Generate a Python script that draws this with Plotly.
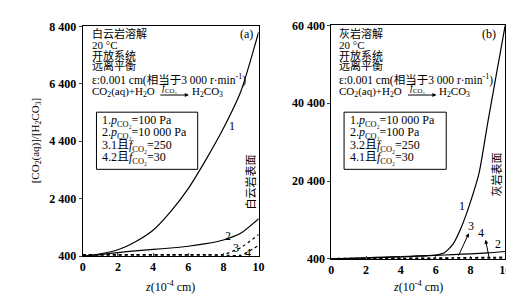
import plotly.graph_objects as go

# ---------------- data ----------------
z = [0, 1, 2, 3, 4, 5, 6, 7, 8, 9, 10]
z_fine = [0, 0.5, 1, 1.5, 2, 2.5, 3, 3.5, 4, 4.5, 5, 5.5, 6, 6.5, 7, 7.5, 8, 8.5, 9, 9.5, 10]

# panel (a) dolomite
a_c1 = [400, 480, 620, 900, 1300, 1950, 2750, 3750, 4850, 6150, 8200]
a_c2 = [400, 450, 520, 580, 630, 680, 740, 830, 960, 1200, 1700]
a_c3 = [450, 450, 450, 450, 450, 450, 450, 450, 450, 700, 1150]
a_c4 = [430, 430, 430, 430, 430, 430, 430, 430, 430, 430, 770]

# panel (b) limestone
b_c1 = [400, 450, 500, 560, 620, 690, 760, 840, 920, 1000, 1100, 1200, 1400,
        2000, 4200, 8800, 15000, 22500, 35500, 48000, 60400]
b_c2 = [400, 550, 700, 850, 1000, 1150, 1300, 1500, 1700, 1950, 2300]
b_c3 = [500, 520, 540, 560, 580, 600, 650, 700, 750, 800, 850]
b_c4 = [450, 460, 470, 480, 500, 520, 540, 560, 580, 600, 620]

a_yticks = [400, 2400, 4400, 6400, 8400]
a_yticktext = ["400", "2 400", "4 400", "6 400", "8 400"]
b_yticks = [400, 20400, 40400, 60400]
b_yticktext = ["400", "20 400", "40 400", "60 400"]
xticks = [0, 2, 4, 6, 8, 10]
xticktext = ["0", "2", "4", "6", "8", "10"]

a_info = ["白云岩溶解", "20 °C", "开放系统", "远离平衡"]
b_info = ["灰岩溶解", "20 °C", "开放系统", "远离平衡"]
eps_text = "ε:0.001 cm(相当于3 000 r·min<sup>-1</sup>)"
react_left = "CO<sub>2</sub>(aq)+H<sub>2</sub>O"
react_k = "<i>f</i><sub>CO₂</sub>"
react_right = "H<sub>2</sub>CO<sub>3</sub>"
a_legend = ["1.<i>p</i><sub>CO₂</sub>=100 Pa", "2.<i>p</i><sub>CO₂</sub>=10 000 Pa",
            "3.1且<i>f</i><sub>CO₂</sub>=250", "4.2且<i>f</i><sub>CO₂</sub>=30"]
b_legend = ["1.<i>p</i><sub>CO₂</sub>=10 000 Pa", "2.<i>p</i><sub>CO₂</sub>=100 Pa",
            "3.2且<i>f</i><sub>CO₂</sub>=250", "4.1且<i>f</i><sub>CO₂</sub>=30"]

FONT = "Liberation Serif, Noto Sans CJK SC, serif"
W, H = 514, 296

fig = go.Figure()

def line(x, y, xa, ya, dash="solid"):
    fig.add_trace(go.Scatter(x=x, y=y, xaxis=xa, yaxis=ya, mode="lines",
                             line=dict(color="black", width=1.2, dash=dash,
                                       shape="spline", smoothing=0.6),
                             showlegend=False, hoverinfo="skip"))

line(z, a_c1, "x", "y")
line(z, a_c2, "x", "y")
line(z, a_c3, "x", "y", "dot")
line(z, a_c4, "x", "y", "dot")
line(z_fine, b_c1, "x2", "y2")
line(z, b_c2, "x2", "y2")
line(z, b_c3, "x2", "y2", "dot")
line(z, b_c4, "x2", "y2", "dot")

def px(xp):
    return xp / W

def py(yp):
    return 1 - yp / H

def bold(lst):
    return ["<b>%s</b>" % s for s in lst]

axis_common = dict(showline=True, linecolor="black", linewidth=1, mirror=True,
                   showgrid=False, zeroline=False,
                   tickfont=dict(family=FONT, size=12, color="black"))

fig.update_layout(
    width=W, height=H, margin=dict(l=0, r=0, t=0, b=0),
    paper_bgcolor="white", plot_bgcolor="white",
    font=dict(family=FONT, color="black"),
    xaxis=dict(domain=[px(73), px(252)], range=[0, 10], tickvals=xticks,
               ticktext=bold(xticktext), ticks="inside", ticklen=3, anchor="y",
               **axis_common),
    yaxis=dict(domain=[py(253), py(12)], range=[400, 8400], tickvals=a_yticks,
               ticktext=bold(a_yticktext), ticks="outside", ticklen=3, anchor="x",
               **axis_common),
    xaxis2=dict(domain=[px(326), px(503)], range=[0, 10], tickvals=xticks,
                ticktext=bold(xticktext), ticks="inside", ticklen=3, anchor="y2",
                **axis_common),
    yaxis2=dict(domain=[py(256), py(11)], range=[400, 60400], tickvals=b_yticks,
                ticktext=bold(b_yticktext), ticks="outside", ticklen=3, anchor="x2",
                **axis_common),
)

ann = []

def txt(x, y, s, size=12, xanchor="left", angle=0):
    ann.append(dict(x=px(x), y=py(y), xref="paper", yref="paper", text=s,
                    showarrow=False, xanchor=xanchor, yanchor="middle",
                    textangle=angle, font=dict(family=FONT, size=size, color="black")))

def arrow(hx, hy, tx, ty, head=2):
    ann.append(dict(x=px(hx), y=py(hy), xref="paper", yref="paper",
                    ax=tx - hx, ay=ty - hy, axref="pixel", ayref="pixel",
                    text="", showarrow=True, arrowhead=head, arrowsize=0.8,
                    arrowwidth=1, arrowcolor="black"))

# info blocks
for x0, info in ((80, a_info), (332, b_info)):
    for s, yy in zip(info, [19.5, 31, 42, 53]):
        txt(x0, yy, s, size=11)
    txt(x0, 68, eps_text, size=11.5)
    txt(x0, 81, react_left, size=11)
    txt(x0 + 82, 77, react_k, size=10, xanchor="center")
    arrow(x0 + 101, 84, x0 + 71, 84)
    txt(x0 + 102, 81, react_right, size=11)

# legend boxes
shapes = []
for x0, x1, leg in ((87, 190, a_legend), (339, 443, b_legend)):
    shapes.append(dict(type="rect", xref="paper", yref="paper",
                       x0=px(x0), x1=px(x1), y0=py(162), y1=py(102),
                       line=dict(color="black", width=1)))
    for s, yy in zip(leg, [111, 124, 137, 150]):
        txt(x0 + 4, yy, s)

# panel labels
txt(240, 20, "(a)", xanchor="center")
txt(487, 20, "(b)", xanchor="center")

# curve labels panel a
txt(225, 117, "1", xanchor="center")
txt(221, 232, "2", xanchor="center")
txt(229, 245, "3", xanchor="center")
txt(241, 250, "4", xanchor="center")
# curve labels panel b
txt(459, 200, "1", xanchor="center")
txt(468, 221, "3", xanchor="center")
txt(478, 229, "4", xanchor="center")
txt(496, 240, "2", xanchor="center")

# vertical surface labels
txt(244, 175, "白云岩表面", size=11, xanchor="center", angle=-90)
txt(494, 167, "灰岩表面", size=11, xanchor="center", angle=-90)

# axis titles
txt(25, 132, "[CO<sub>2</sub>(aq)]/[H<sub>2</sub>CO<sub>3</sub>]", size=11,
    xanchor="center", angle=-90)
txt(162, 285, "<i>z</i>(10<sup>-4</sup> cm)", xanchor="center")
txt(414, 285, "<i>z</i>(10<sup>-4</sup> cm)", xanchor="center")

# arrows in panel b (head at label, tail on the curves)
arrow(466, 229, 455, 253)
arrow(483, 236, 487, 256)

fig.update_layout(annotations=ann, shapes=shapes)
fig.write_html("out.html")
